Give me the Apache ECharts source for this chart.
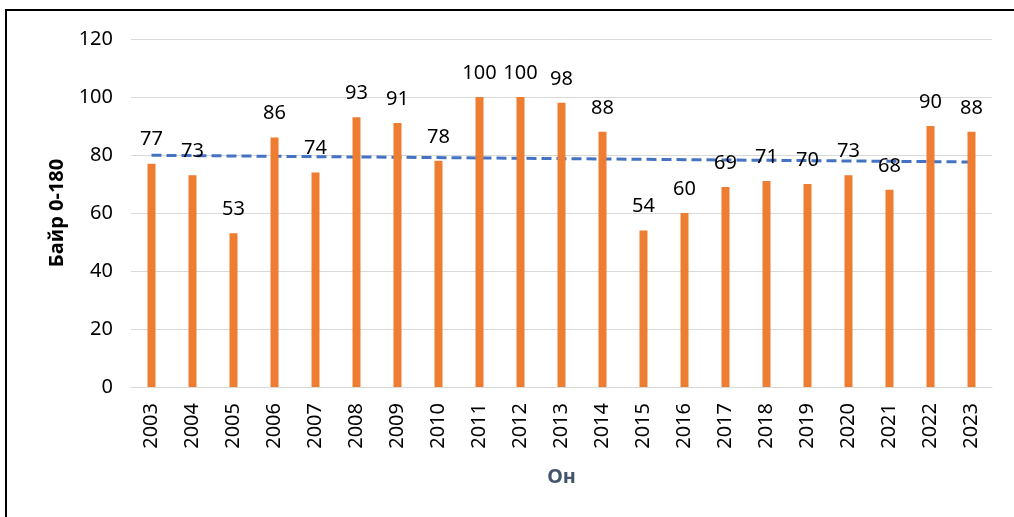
<!DOCTYPE html>
<html>
<head>
<meta charset="utf-8">
<script src="https://cdn.jsdelivr.net/npm/echarts@6/dist/echarts.min.js"></script>
<style>
  html, body { margin: 0; padding: 0; background: #fff; }
  #chart { width: 1014px; height: 517px; }
</style>
</head>
<body>
<div id="chart"></div>
<script>
    var years = ['2003', '2004', '2005', '2006', '2007', '2008', '2009', '2010', '2011', '2012',
        '2013', '2014', '2015', '2016', '2017', '2018', '2019', '2020', '2021', '2022', '2023'];
    var ranks = [77, 73, 53, 86, 74, 93, 91, 78, 100, 100, 98, 88, 54, 60, 69, 71, 70, 73, 68, 90, 88];
    // trendline read at first and last year
    var trendEnds = [79.9, 77.6];

    var trendData = years.map(function (y, i) {
        if (i === 0) return trendEnds[0];
        if (i === years.length - 1) return trendEnds[1];
        return null;
    });

    var font = 'Noto Sans';
    var chart = echarts.init(document.getElementById('chart'));
    var option = {
        animation: false,
        textStyle: {fontFamily: font},
        graphic: [{
            type: 'rect',
            shape: {x: 6, y: 10, width: 1200, height: 700},
            style: {fill: 'none', stroke: '#000', lineWidth: 2},
            silent: true
        }],
        grid: {left: 131, right: 22, top: 39, bottom: 130},
        xAxis: {
            type: 'category',
            data: years,
            name: 'Он',
            nameLocation: 'middle',
            nameGap: 80,
            nameTextStyle: {fontFamily: font, fontSize: 20, fontWeight: 'bold', color: '#44546A'},
            axisLine: {lineStyle: {color: '#D9D9D9'}},
            axisTick: {show: false},
            axisLabel: {rotate: 90, fontSize: 20, color: '#000', margin: 16, interval: 0}
        },
        yAxis: {
            type: 'value',
            min: 0,
            max: 120,
            interval: 20,
            name: 'Байр 0-180',
            nameLocation: 'middle',
            nameGap: 64,
            nameTextStyle: {fontFamily: font, fontSize: 20, fontWeight: 'bold', color: '#000'},
            axisLine: {show: false},
            axisTick: {show: false},
            axisLabel: {fontSize: 20, color: '#000', margin: 18},
            splitLine: {lineStyle: {color: '#D9D9D9'}}
        },
        series: [
            {
                type: 'bar',
                data: ranks,
                barWidth: 8,
                itemStyle: {color: '#ED7D31'},
                label: {show: true, position: 'top', distance: 14, fontSize: 20, color: '#000'}
            },
            {
                type: 'line',
                data: trendData,
                connectNulls: true,
                symbol: 'none',
                lineStyle: {color: '#4472C4', width: 3, type: [10, 5]},
                z: 1
            }
        ]
    };
    chart.setOption(option);
</script>
</body>
</html>
